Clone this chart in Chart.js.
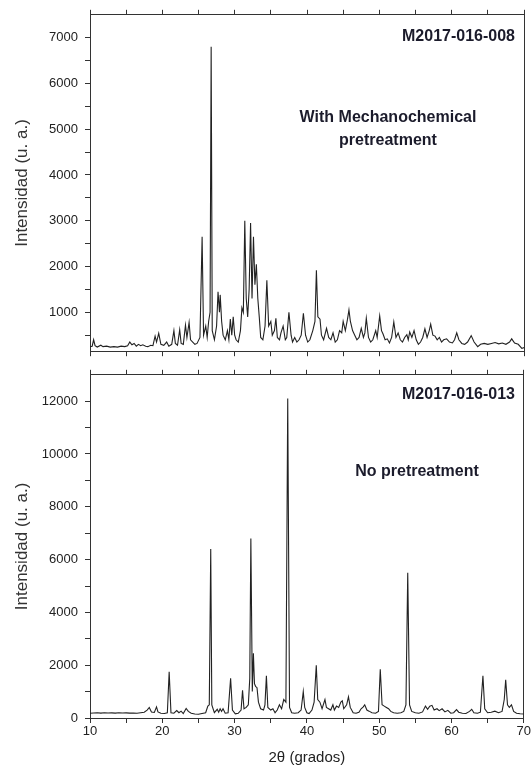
<!DOCTYPE html>
<html>
<head>
<meta charset="utf-8">
<script src="https://cdn.jsdelivr.net/npm/chart.js@4.4.1/dist/chart.umd.min.js"></script>
<style>
  html, body { margin: 0; padding: 0; background: #fff; }
  #wrap { position: relative; width: 532px; height: 771px; }
  canvas { position: absolute; left: 0; }
  #topChart { top: 0; }
  #bottomChart { top: 360px; }
</style>
</head>
<body>
<div id="wrap">
  <canvas id="topChart" width="532" height="366"></canvas>
  <canvas id="bottomChart" width="532" height="411"></canvas>
</div>
<script>
// 2theta (degrees) and intensity
var topTheta = [10.0,10.3,10.5,10.7,11.0,11.5,11.8,12.3,12.8,13.3,13.8,14.3,14.8,15.2,15.5,15.8,16.1,16.4,16.7,17.0,
  17.3,17.7,18.0,18.4,18.7,19.0,19.2,19.5,19.8,20.2,20.6,20.9,21.3,21.6,21.8,22.1,22.4,22.6,22.9,23.2,
  23.4,23.7,23.9,24.2,24.5,24.8,25.2,25.5,25.7,26.0,26.2,26.4,26.6,26.75,26.9,27.2,27.5,27.7,27.9,28.0,
  28.2,28.4,28.7,29.0,29.2,29.4,29.6,29.8,30.0,30.2,30.5,30.8,31.0,31.2,31.4,31.6,31.8,32.0,32.2,32.4,
  32.6,32.8,33.0,33.2,33.4,33.6,33.9,34.2,34.45,34.7,35.0,35.2,35.5,35.7,35.9,36.2,36.4,36.7,37.0,37.2,
  37.5,37.8,38.0,38.3,38.6,38.9,39.2,39.5,39.8,40.1,40.4,40.8,41.1,41.3,41.5,41.8,42.0,42.3,42.7,43.0,
  43.3,43.6,43.9,44.2,44.5,44.8,45.0,45.3,45.6,45.8,46.0,46.3,46.6,46.9,47.2,47.5,47.8,48.0,48.2,48.5,
  48.8,49.1,49.5,49.7,50.05,50.3,50.5,50.8,51.1,51.4,51.7,52.0,52.3,52.6,52.9,53.2,53.5,53.8,54.0,54.2,
  54.5,54.8,55.1,55.4,55.7,56.0,56.3,56.6,56.9,57.1,57.4,57.7,58.0,58.3,58.6,58.9,59.3,59.7,60.1,60.4,
  60.7,61.0,61.4,61.8,62.2,62.7,63.1,63.6,64.0,64.5,65.0,65.5,66.0,66.5,67.0,67.5,68.0,68.3,68.7,69.2,
  69.7,70.0];
var topIntensity = [250,260,400,270,240,280,250,260,240,250,240,260,250,270,350,290,320,260,300,270,
  290,260,250,280,270,480,350,540,300,280,350,260,300,600,320,280,620,320,300,720,
  450,780,400,350,300,320,450,2650,500,700,450,800,1000,6800,600,400,700,1450,1000,1380,
  800,500,400,600,400,850,500,900,500,400,350,600,1100,1000,3000,1300,900,1500,2950,1300,
  2650,1600,2050,1300,900,450,400,700,1700,700,800,500,600,870,450,400,550,700,400,450,
  1000,500,350,450,350,400,500,980,500,350,400,600,800,1920,900,850,500,400,650,450,
  400,550,350,400,600,550,800,600,850,1050,800,600,500,400,450,650,450,550,870,450,
  350,400,600,450,920,600,530,400,420,330,450,790,450,550,400,350,450,510,400,570,
  450,600,400,300,350,450,640,450,600,740,500,480,400,450,350,400,420,350,330,400,
  550,400,320,300,350,490,350,250,300,320,300,320,340,310,330,300,350,420,330,300,
  210,230];

var bottomTheta = [10.0,10.5,11.0,11.5,12.0,12.5,13.0,13.5,14.0,14.5,15.0,15.5,16.0,16.5,17.0,17.5,17.9,18.2,18.5,18.9,
  19.2,19.4,19.8,20.3,20.7,20.95,21.2,21.6,22.0,22.3,22.6,22.9,23.3,23.6,24.0,24.5,25.0,25.5,26.0,26.3,
  26.5,26.7,26.85,27.2,27.6,27.8,28.0,28.2,28.4,28.7,29.1,29.45,29.7,30.1,30.5,30.9,31.1,31.3,31.6,31.9,
  32.1,32.25,32.45,32.6,32.75,32.9,33.1,33.3,33.6,34.0,34.2,34.4,34.6,35.0,35.3,35.6,35.9,36.2,36.5,36.8,
  37.1,37.35,37.6,37.9,38.3,38.8,39.2,39.5,39.7,40.0,40.3,40.7,41.0,41.3,41.5,41.8,42.1,42.5,42.7,43.0,
  43.3,43.6,43.8,44.1,44.4,44.7,44.9,45.1,45.5,45.75,46.0,46.4,46.8,47.2,47.5,47.8,48.0,48.3,48.6,49.0,
  49.5,49.9,50.15,50.4,50.7,51.0,51.3,51.6,52.0,52.5,53.0,53.4,53.7,53.95,54.2,54.5,55.0,55.5,56.0,56.4,
  56.7,57.0,57.3,57.6,58.0,58.3,58.7,59.1,59.5,59.9,60.3,60.7,61.0,61.5,62.0,62.5,62.8,63.1,63.6,64.0,
  64.35,64.6,65.0,65.5,66.0,66.5,67.0,67.3,67.5,67.75,68.0,68.3,68.6,69.0,69.5,70.0];
var bottomIntensity = [180,190,200,185,200,190,195,185,200,190,195,185,190,180,200,220,300,400,230,210,
  420,230,180,170,200,1750,200,180,280,200,260,170,360,250,180,150,140,170,200,450,
  500,6400,500,200,330,220,350,250,350,180,200,1500,300,160,180,300,1050,350,400,500,
  1500,6800,1000,2450,1300,1200,1150,600,350,300,500,1600,400,300,350,200,300,500,350,700,
  600,12100,400,200,180,200,300,1000,400,200,170,300,600,2000,700,600,350,700,400,350,
  300,500,300,450,400,600,650,350,500,800,400,200,180,220,350,420,500,300,260,200,
  180,250,1850,500,450,400,350,250,200,180,200,250,500,5500,500,250,200,180,230,450,
  330,450,480,300,350,280,350,230,290,180,200,320,220,180,170,250,330,200,180,220,
  1600,350,200,220,260,200,250,700,1450,500,400,500,250,180,160,150];

// tick marks (all) and the subset that carries a label
var xTickMarks = [10, 15, 20, 25, 30, 35, 40, 45, 50, 55, 60, 65, 70];
var xTickLabels = [10, 20, 30, 40, 50, 60, 70];
var topYTickMarks = [500, 1000, 1500, 2000, 2500, 3000, 3500, 4000, 4500, 5000, 5500, 6000, 6500, 7000];
var topYTickLabels = [1000, 2000, 3000, 4000, 5000, 6000, 7000];
var bottomYTickMarks = [0, 1000, 2000, 3000, 4000, 5000, 6000, 7000, 8000, 9000, 10000, 11000, 12000];
var bottomYTickLabels = [0, 2000, 4000, 6000, 8000, 10000, 12000];

var axisColor = '#333333';
var textColor = '#222222';
var fontFamily = '"Liberation Sans", Arial, sans-serif';

function toPoints(xs, ys) {
  return xs.map(function (x, i) { return { x: x, y: ys[i] }; });
}

function fixedTicks(values) {
  return function (scale) {
    scale.ticks = values.map(function (v) { return { value: v }; });
  };
}

var notePlugin = {
  id: 'notes',
  afterDraw: function (chart, args, opts) {
    var ctx = chart.ctx;
    ctx.save();
    ctx.font = 'bold 16px ' + fontFamily;
    ctx.fillStyle = '#1b1b2b';
    ctx.textBaseline = 'middle';
    (opts.items || []).forEach(function (n) {
      ctx.textAlign = n.align;
      ctx.fillText(n.text, n.x, n.y);
    });
    ctx.restore();
  }
};

function makeOptions(cfg) {
  return {
    responsive: false,
    animation: false,
    layout: { padding: 0 },
    plugins: {
      legend: { display: false },
      tooltip: { enabled: false },
      notes: { items: cfg.notes }
    },
    scales: {
      x: {
        type: 'linear', position: 'bottom', min: 10, max: 70,
        afterBuildTicks: fixedTicks(xTickMarks),
        ticks: {
          autoSkip: false, maxRotation: 0, padding: 1,
          color: textColor, font: { family: fontFamily, size: 13 },
          callback: function (v) { return cfg.xLabels && xTickLabels.indexOf(v) >= 0 ? v : ''; }
        },
        grid: { drawOnChartArea: false, tickLength: 5, color: axisColor },
        border: { color: axisColor, width: 1 },
        title: {
          display: cfg.xLabels, text: '2θ (grados)', color: textColor,
          font: { family: fontFamily, size: 15 }, padding: { top: 0, bottom: 4 }
        },
        afterFit: function (s) { s.height = cfg.bottomH; }
      },
      x2: {
        type: 'linear', position: 'top', min: 10, max: 70,
        afterBuildTicks: fixedTicks(xTickMarks),
        ticks: { autoSkip: false, callback: function () { return ''; } },
        grid: { drawOnChartArea: false, tickLength: 5, color: axisColor },
        border: { color: axisColor, width: 1 },
        afterFit: function (s) { s.height = cfg.topH; }
      },
      y: {
        type: 'linear', position: 'left', min: cfg.yMin, max: cfg.yMax,
        afterBuildTicks: fixedTicks(cfg.yMarks),
        ticks: {
          autoSkip: false, padding: 7,
          color: textColor, font: { family: fontFamily, size: 13 },
          callback: function (v) { return cfg.yLabels.indexOf(v) >= 0 ? v : ''; }
        },
        grid: { drawOnChartArea: false, tickLength: 5, color: axisColor },
        border: { color: axisColor, width: 1 },
        title: {
          display: true, text: 'Intensidad (u. a.)', color: '#333',
          font: { family: fontFamily, size: 17 }, padding: { top: 12, bottom: 0 }
        },
        afterFit: function (s) { s.width = 90; }
      },
      y2: {
        type: 'linear', position: 'right', min: cfg.yMin, max: cfg.yMax,
        ticks: { display: false },
        grid: { display: false },
        border: { color: axisColor, width: 1 },
        afterFit: function (s) { s.width = 8; }
      }
    }
  };
}

function lineDataset(xs, ys) {
  return {
    data: toPoints(xs, ys),
    showLine: true,
    borderColor: '#222222',
    borderWidth: 1.1,
    pointRadius: 0,
    tension: 0,
    fill: false
  };
}

new Chart(document.getElementById('topChart').getContext('2d'), {
  type: 'scatter',
  data: { datasets: [lineDataset(topTheta, topIntensity)] },
  options: makeOptions({
    xLabels: false, bottomH: 8, topH: 14,
    yMin: 150, yMax: 7500, yMarks: topYTickMarks, yLabels: topYTickLabels,
    notes: [
      { text: 'M2017-016-008', x: 515, y: 37, align: 'right' },
      { text: 'With Mechanochemical', x: 388, y: 118, align: 'center' },
      { text: 'pretreatment', x: 388, y: 141, align: 'center' }
    ]
  }),
  plugins: [notePlugin]
});

new Chart(document.getElementById('bottomChart').getContext('2d'), {
  type: 'scatter',
  data: { datasets: [lineDataset(bottomTheta, bottomIntensity)] },
  options: makeOptions({
    xLabels: true, bottomH: 53, topH: 8,
    yMin: 0, yMax: 13000, yMarks: bottomYTickMarks, yLabels: bottomYTickLabels,
    notes: [
      { text: 'M2017-016-013', x: 515, y: 35, align: 'right' },
      { text: 'No pretreatment', x: 417, y: 112, align: 'center' }
    ]
  }),
  plugins: [notePlugin]
});
</script>
</body>
</html>
